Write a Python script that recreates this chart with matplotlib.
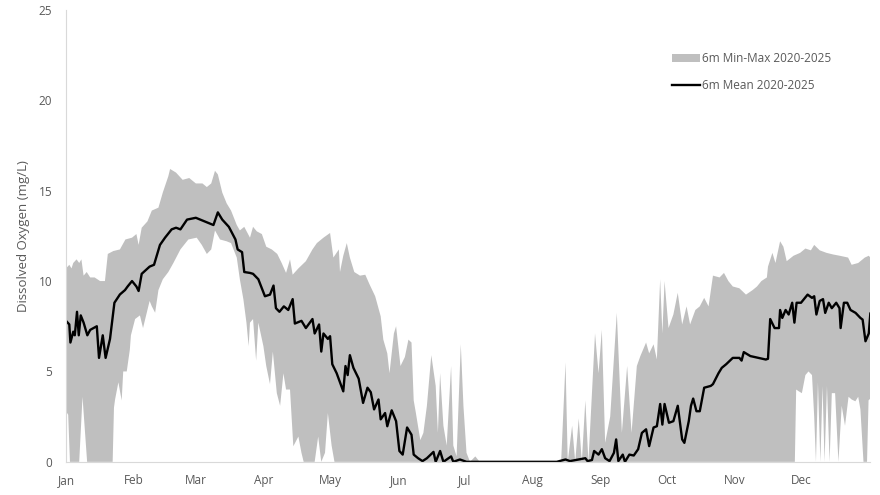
import numpy as np
import matplotlib
matplotlib.use("Agg")
import matplotlib.pyplot as plt

# 6m dissolved oxygen, day of year (0 = 1 Jan)
mean_day = [0, 1.5, 2, 3.3, 4, 5, 5.8, 6.7, 8, 9.7, 11, 14, 15, 16.7, 18, 20, 22, 24.5, 26.8, 28,
            30, 32, 33, 34.4, 38, 40, 42.7, 45, 48, 50, 52, 55, 59, 63, 67, 69, 71, 74, 77, 78,
            80, 81, 83.6, 85, 87.4, 90.4, 92.7, 94.3, 95.4, 97, 99, 101, 103, 104, 107, 109, 112, 113, 115, 116,
            117, 119, 120, 121, 123, 126, 127, 128, 129, 130.6, 133, 135, 137, 138.5, 140, 142, 143, 145, 146, 148,
            150, 151.5, 153, 155, 157, 158, 160, 162, 164, 167, 168, 170, 171.5, 173, 175, 176, 179, 182, 223, 227,
            229, 236, 237, 239, 240, 242, 243.5, 245, 247, 249, 250, 251, 253, 254, 256, 258, 260, 261.7, 263.6, 265,
            267, 268.5, 270, 271, 272, 274, 276, 278, 280, 281, 283, 284, 285, 286.5, 288, 290, 293, 294, 296.5, 298,
            300, 303, 306, 307, 308, 311, 318, 319, 320, 322, 324, 324.5, 325.5, 327, 328.4, 330, 331, 332, 334, 337,
            339, 340, 341, 342.5, 344, 345, 346.6, 348, 350, 351.5, 352, 353.5, 355, 356.5, 358.8, 361, 362, 363.3, 364.8, 365.5]
mean_do = [7.8, 7.6, 6.6, 7.2, 7.0, 8.3, 7.0, 8.1, 7.7, 7.0, 7.3, 7.5, 5.75, 7.0, 5.75, 6.8, 8.8, 9.26, 9.5, 9.7,
           10.0, 9.7, 9.45, 10.4, 10.8, 10.9, 12.0, 12.4, 12.86, 12.95, 12.86, 13.4, 13.5, 13.3, 13.1, 13.8, 13.4, 13.0, 12.3, 11.75,
           11.6, 10.5, 10.45, 10.4, 10.1, 9.16, 9.25, 9.75, 8.5, 8.3, 8.6, 8.4, 9.0, 7.65, 7.8, 7.4, 7.9, 7.1, 7.6, 6.1,
           7.1, 6.8, 6.95, 5.4, 4.9, 3.9, 5.3, 4.8, 5.9, 5.2, 4.6, 3.26, 4.1, 3.85, 2.9, 3.45, 2.35, 2.7, 1.97, 2.85,
           2.25, 0.6, 0.4, 1.9, 1.5, 0.4, 0.2, 0.04, 0.2, 0.55, 0.0, 0.6, 0.0, 0.13, 0.3, 0.0, 0.13, 0.0, 0.0, 0.13,
           0.04, 0.2, 0.04, 0.1, 0.6, 0.4, 0.7, 0.2, 0.04, 0.5, 1.24, 0.04, 0.4, 0.0, 0.4, 0.35, 0.7, 1.6, 1.8, 0.87,
           1.9, 1.97, 3.2, 2.06, 3.2, 2.16, 2.25, 3.1, 1.24, 1.05, 2.25, 3.1, 3.5, 2.8, 2.8, 4.1, 4.2, 4.3, 4.9, 5.2,
           5.4, 5.75, 5.75, 5.6, 6.07, 5.85, 5.66, 5.7, 7.9, 7.4, 7.4, 8.4, 7.96, 8.4, 8.15, 8.8, 7.7, 8.8, 8.8, 9.25,
           9.07, 9.16, 8.15, 8.9, 9.0, 8.24, 8.8, 8.5, 8.8, 8.5, 7.4, 8.8, 8.8, 8.4, 8.24, 7.96, 7.87, 6.67, 7.1, 8.2]

max_day = [0, 1.5, 2.5, 3.3, 4.8, 6, 7, 8, 9.4, 11, 13, 15.5, 17.7, 19, 21.5, 24.5, 27, 30, 32, 33,
           34.4, 37, 39, 42, 44, 46.5, 47.3, 50, 53, 56, 59, 62, 64, 66, 67.7, 69, 71, 73, 75, 77.6,
           79, 81, 83.6, 85, 86.7, 89, 91, 93.5, 96, 98, 100, 101.8, 103, 105.6, 109, 112, 114, 117, 120, 121.5,
           124, 124.5, 126, 127.6, 129, 131, 133.6, 136, 138, 140.5, 143, 144.2, 146, 147, 149, 150, 151, 152, 154, 155.6,
           157, 158, 159, 161, 162.4, 164, 166, 168, 169, 170, 171.5, 173, 175, 176, 177.5, 179.4, 180.6, 182, 183.6, 186,
           188, 225, 227, 228, 230, 231.4, 233, 234.4, 236, 237.4, 240.4, 242, 243.5, 245, 247.3, 250.3, 252.6, 255, 257, 259.4,
           261, 263.6, 265, 267, 268.5, 270, 271, 272, 273.8, 276, 278, 280, 282, 283.6, 286, 288, 290, 292, 294, 297,
           299, 301, 303, 306, 309, 312, 314, 316, 318.5, 319, 321, 322.4, 324.5, 326, 327.5, 330.6, 333.6, 336, 338.5, 340,
           342.5, 345.6, 348.6, 351.6, 355.4, 357, 360, 363, 364.8, 365.5]
max_do = [10.7, 10.9, 10.7, 11.0, 11.2, 11.0, 11.2, 10.3, 10.5, 10.2, 10.2, 10.0, 10.0, 11.5, 11.66, 11.75, 12.3, 12.4, 12.6, 12.0,
          12.95, 13.3, 13.9, 14.06, 14.9, 15.8, 16.2, 16.0, 15.6, 15.7, 15.4, 15.4, 15.2, 15.4, 16.1, 15.9, 14.9, 14.3, 13.9, 13.1,
          12.8, 13.0, 12.4, 13.0, 12.75, 12.6, 11.9, 11.75, 11.5, 11.0, 10.45, 11.2, 10.35, 10.7, 11.1, 11.75, 12.1, 12.4, 12.66, 11.3,
          11.75, 10.5, 11.4, 12.1, 11.3, 10.5, 10.3, 10.35, 9.8, 9.16, 8.05, 6.76, 6.0, 4.9, 7.1, 7.5, 6.4, 5.3, 5.8, 6.76,
          6.6, 3.4, 2.7, 1.2, 1.6, 3.1, 5.9, 4.2, 1.6, 4.9, 2.0, 0.9, 5.3, 0.9, 0.3, 6.5, 3.1, 0.5, 0.0, 0.3,
          0.0, 0.0, 5.5, 0.0, 2.0, 0.0, 2.4, 0.0, 3.4, 0.0, 7.1, 4.9, 7.3, 1.05, 2.5, 8.24, 1.6, 5.3, 1.6, 5.3,
          5.85, 6.6, 6.0, 6.5, 5.66, 10.1, 7.1, 10.0, 7.4, 8.15, 9.35, 7.6, 8.6, 7.6, 8.4, 8.6, 9.07, 8.6, 10.3, 10.2,
          10.45, 10.0, 9.7, 9.6, 9.25, 9.5, 9.7, 10.0, 10.2, 10.8, 11.56, 11.0, 12.2, 11.9, 11.1, 11.4, 11.56, 11.8, 11.7, 12.0,
          11.7, 11.56, 11.47, 11.4, 11.3, 10.9, 11.0, 11.3, 11.4, 11.3]

min_day = [0, 1, 1.8, 6, 7.5, 9.6, 21.2, 21.8, 22.3, 23.8, 25.3, 26, 27.6, 29, 29.5, 31.4, 33.6, 35, 36.7, 38,
           39, 40.5, 42, 44, 46.5, 48.8, 52, 55.6, 59.4, 61.7, 64, 66, 67.7, 70, 73, 75, 77.6, 79, 80.6, 82,
           83, 83.6, 85, 86.4, 87.4, 89.7, 91, 92.7, 94, 95.8, 97.3, 98.8, 100, 101.8, 103.3, 105.6, 107, 108, 113, 114.6,
           116, 117.7, 119, 120.7, 122, 331.2, 331.8, 333, 334.4, 336, 337.4, 339, 340, 340.8, 341.7, 342.8, 343.8, 344.7, 345.8, 347,
           348, 349.5, 351, 352.5, 354, 355.6, 357, 358.7, 360, 361, 362.4, 364, 364.7, 365.5]
min_do = [2.8, 2.6, 0.0, 0.0, 3.6, 0.0, 0.0, 3.0, 3.45, 4.4, 3.4, 5.0, 5.0, 6.2, 7.0, 7.9, 8.1, 7.4, 8.25, 8.9,
          8.6, 8.25, 9.5, 10.1, 10.5, 11.0, 11.75, 12.3, 12.4, 12.0, 11.5, 11.75, 12.8, 12.3, 12.2, 12.1, 11.3, 10.1, 9.0, 7.7,
          6.4, 7.7, 7.9, 5.6, 7.7, 6.4, 5.3, 4.3, 6.1, 3.8, 3.1, 4.9, 4.0, 4.0, 0.86, 1.4, 0.5, 0.0, 0.0, 1.4,
          0.0, 0.5, 2.7, 0.9, 0.0, 0.0, 4.0, 3.9, 3.8, 4.8, 5.0, 4.8, 2.5, 0.0, 4.4, 0.0, 4.2, 0.0, 4.2, 0.0,
          3.8, 3.8, 0.0, 3.1, 2.0, 3.6, 3.45, 3.35, 3.6, 2.9, 0.0, 0.0, 3.4, 3.5]

month_start = [0, 31, 59, 90, 120, 151, 181, 212, 243, 273, 304, 334]
month_names = ['Jan', 'Feb', 'Mar', 'Apr', 'May', 'Jun', 'Jul', 'Aug', 'Sep', 'Oct', 'Nov', 'Dec']

plt.rcParams['font.family'] = ['Open Sans', 'DejaVu Sans']

fig = plt.figure(figsize=(8.8, 4.95), dpi=100)
ax = fig.add_axes([0.075, 0.067, 0.914, 0.913])

band_x = np.concatenate([max_day, min_day[::-1]])
band_y = np.concatenate([max_do, min_do[::-1]])
ax.fill(band_x, band_y, color='#bfbfbf', linewidth=0, label='6m Min-Max 2020-2025')
ax.plot(mean_day, mean_do, color='black', linewidth=1.7, label='6m Mean 2020-2025')

ax.set_xlim(0, 365.5)
ax.set_ylim(0, 25)
ax.set_yticks([0, 5, 10, 15, 20, 25])
ax.set_xticks(month_start)
ax.set_xticklabels(month_names)
ax.tick_params(axis='both', length=0, labelsize=8.5, colors='#595959')
ax.tick_params(axis='y', pad=10)
ax.tick_params(axis='x', pad=9)
ax.set_ylabel('Dissolved Oxygen (mg/L)', fontsize=9.5, color='#595959', labelpad=6)

for s in ['top', 'right']:
    ax.spines[s].set_visible(False)
ax.spines['left'].set_color('#d9d9d9')
ax.spines['bottom'].set_color('#d9d9d9')

ax.legend(loc='upper left', bbox_to_anchor=(0.74, 0.93), frameon=False, fontsize=8.5,
          handlelength=2.4, handletextpad=0.15, labelspacing=1.15, labelcolor='#595959')

fig.savefig('out.png', dpi=100)
